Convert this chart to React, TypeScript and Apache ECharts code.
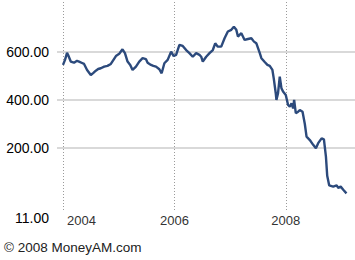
import React, { useEffect, useRef } from "react";
import * as echarts from "echarts";

// Decimal years of each observation
const years = [
  2004.0, 2004.036, 2004.072, 2004.09, 2004.139, 2004.198, 2004.252, 2004.288, 2004.342, 2004.378,
  2004.432, 2004.499, 2004.546, 2004.589, 2004.631, 2004.679, 2004.739, 2004.798, 2004.859, 2004.906,
  2004.95, 2005.009, 2005.045, 2005.068, 2005.112, 2005.159, 2005.207, 2005.249, 2005.31, 2005.369,
  2005.429, 2005.49, 2005.519, 2005.58, 2005.622, 2005.67, 2005.73, 2005.771, 2005.82, 2005.879,
  2005.941, 2005.987, 2006.031, 2006.09, 2006.15, 2006.211, 2006.27, 2006.33, 2006.391, 2006.45,
  2006.481, 2006.51, 2006.571, 2006.631, 2006.69, 2006.733, 2006.78, 2006.841, 2006.901, 2006.96,
  2007.022, 2007.068, 2007.112, 2007.141, 2007.202, 2007.261, 2007.321, 2007.382, 2007.429, 2007.472,
  2007.532, 2007.562, 2007.622, 2007.67, 2007.712, 2007.76, 2007.784, 2007.82, 2007.832, 2007.861,
  2007.892, 2007.922, 2007.951, 2008.0, 2008.041, 2008.072, 2008.103, 2008.132, 2008.15, 2008.18,
  2008.222, 2008.252, 2008.301, 2008.342, 2008.373, 2008.432, 2008.492, 2008.541, 2008.582, 2008.643,
  2008.685, 2008.721, 2008.744, 2008.78, 2008.852, 2008.914, 2008.942, 2008.986, 2009.032, 2009.09,
];

// Share price (pence) at each observation
const prices = [
  546, 567, 596, 588, 560, 555, 563, 560, 554, 550,
  525, 504, 513, 522, 529, 532, 539, 542, 550, 567,
  583, 592, 604, 611, 595, 560, 546, 525, 539, 560,
  574, 570, 555, 546, 542, 539, 528, 511, 553, 567,
  601, 583, 588, 629, 625, 608, 595, 580, 595, 588,
  580, 560, 580, 595, 608, 636, 622, 622, 657, 685,
  692, 705, 692, 664, 678, 650, 654, 657, 643, 636,
  596, 574, 558, 546, 542, 525, 490, 428, 400, 428,
  497, 449, 435, 421, 379, 372, 386, 365, 400, 345,
  351, 358, 351, 300, 247, 233, 213, 199, 220, 240,
  236, 164, 84, 44, 39, 44, 34, 39, 26, 11,
];

const yearTicks = [2004, 2006, 2008];
const priceTicks = [200, 400, 600];
const copyright = "© 2008 MoneyAM.com";

const X_MIN = 2003.892;
const X_MAX = 2009.243;
const Y_MIN = -62.5;
const Y_MAX = 808;

export default function App() {
  const ref = useRef<HTMLDivElement>(null);
  useEffect(() => {
    document.body.style.margin = "0";
    if (!ref.current) return;
    const chart = echarts.init(ref.current, null, { renderer: "svg" });
    const data = years.map((y, i) => [y, prices[i]]);
    const lowLabel = Math.min(...prices).toFixed(2);
    const font = "Liberation Sans";
    chart.setOption({
      animation: false,
      backgroundColor: "#ffffff",
      grid: { left: 57, right: 0, top: 2, bottom: 49, outerBoundsMode: "none" },
      xAxis: {
        type: "value",
        min: X_MIN,
        max: X_MAX,
        axisLine: { show: false },
        axisTick: { show: false, customValues: yearTicks },
        splitLine: {
          show: true,
          lineStyle: { color: "#9a9a9a", type: [1, 2], width: 1 },
        },
        axisLabel: {
          customValues: yearTicks,
          margin: 3,
          color: "#333",
          fontSize: 13,
          fontFamily: font,
          formatter: (v: number) => (v === yearTicks[0] ? `{first|${v}}` : `{std|${v}}`),
          rich: {
            first: { padding: [0, 0, 0, 37], fontSize: 13, fontFamily: font, color: "#333" },
            std: { fontSize: 13, fontFamily: font, color: "#333" },
          },
        },
      },
      yAxis: {
        type: "value",
        min: Y_MIN,
        max: Y_MAX,
        axisLine: { show: false },
        axisTick: { show: false, customValues: priceTicks },
        splitLine: { show: true, lineStyle: { color: "#d9d9d9", width: 2 } },
        axisLabel: {
          customValues: [Y_MIN, ...priceTicks],
          margin: 8,
          color: "#000",
          fontSize: 14,
          fontFamily: font,
          formatter: (v: number) =>
            v === Y_MIN ? `{low|${lowLabel}}` : `{std|${v.toFixed(2)}}`,
          rich: {
            low: { padding: [14, 0, 0, 0], fontSize: 14, fontFamily: font, color: "#000" },
            std: { fontSize: 14, fontFamily: font, color: "#000" },
          },
        },
      },
      series: [
        {
          type: "line",
          data,
          symbol: "none",
          showSymbol: false,
          lineStyle: { color: "#2c4a7c", width: 2.4 },
        },
      ],
      graphic: [
        {
          type: "text",
          left: 4,
          top: 240,
          style: {
            text: copyright,
            font: `13.5px "${font}"`,
            fill: "#222",
          },
        },
      ],
    });
    return () => chart.dispose();
  }, []);
  return <div ref={ref} style={{ width: 355, height: 260 }} />;
}
